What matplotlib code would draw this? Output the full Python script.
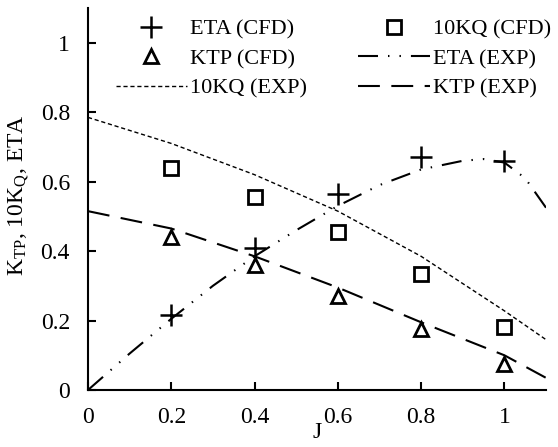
import matplotlib
matplotlib.use("Agg")
import matplotlib.pyplot as plt

plt.rcParams['font.family'] = ['Liberation Serif', 'DejaVu Serif']
plt.rcParams['mathtext.fontset'] = 'custom'
plt.rcParams['mathtext.rm'] = 'Liberation Serif'
plt.rcParams['mathtext.it'] = 'Liberation Serif'

# CFD data
J_cfd = [0.2, 0.4, 0.6, 0.8, 1.0]
eta_cfd = [0.215, 0.41, 0.565, 0.67, 0.66]
kq10_cfd = [0.64, 0.555, 0.455, 0.335, 0.18]
ktp_cfd = [0.44, 0.36, 0.27, 0.175, 0.075]

# Experimental curves
J_eta_exp = [0.0, 0.1, 0.2, 0.3, 0.4, 0.5, 0.6, 0.7, 0.8, 0.9, 0.95, 1.0, 1.05, 1.1]
eta_exp = [0.0, 0.105, 0.205, 0.3, 0.385, 0.46, 0.53, 0.59, 0.635, 0.66, 0.665, 0.655, 0.61, 0.525]
J_kq_exp = [0.0, 0.2, 0.4, 0.6, 0.8, 1.0, 1.1]
kq10_exp = [0.785, 0.71, 0.62, 0.515, 0.385, 0.228, 0.145]
J_ktp_exp = [0.0, 0.2, 0.4, 0.6, 0.8, 1.0, 1.1]
ktp_exp = [0.515, 0.465, 0.385, 0.295, 0.195, 0.1, 0.035]

xticks = [0, 0.2, 0.4, 0.6, 0.8, 1]
xticklabels = ['0', '0.2', '0.4', '0.6', '0.8', '1']
yticks = [0, 0.2, 0.4, 0.6, 0.8, 1]
yticklabels = ['0', '0.2', '0.4', '0.6', '0.8', '1']

fig = plt.figure(figsize=(5.58, 4.47), dpi=100)
ax = fig.add_axes([88/558, 1-390/447, (546-88)/558, (390-8)/447])

fs = 16
h1, = ax.plot(J_cfd, eta_cfd, linestyle='none', marker='+', markersize=16, mew=1.8, color='black', label='ETA (CFD)')
h2, = ax.plot(J_cfd, kq10_cfd, linestyle='none', marker='s', markersize=9.5, mew=2, mfc='none', color='black', label='10KQ (CFD)')
h3, = ax.plot(J_cfd, ktp_cfd, linestyle='none', marker='^', markersize=10, mew=2, mfc='none', color='black', label='KTP (CFD)')
h4, = ax.plot(J_eta_exp, eta_exp, color='black', lw=1.5, dashes=(9.6, 4.8, 0.7, 4.8, 0.7, 4.8), label='ETA (EXP)')
h5, = ax.plot(J_kq_exp, kq10_exp, color='black', lw=1.0, dashes=(3, 2), label='10KQ (EXP)')
h6, = ax.plot(J_ktp_exp, ktp_exp, color='black', lw=1.5, dashes=(10.5, 5.5), label='KTP (EXP)')

ax.set_xlim(0, 1.1)
ax.set_ylim(0, 1.1)
ax.set_xticks(xticks)
ax.set_xticklabels(xticklabels)
ax.set_yticks(yticks)
ax.set_yticklabels(yticklabels)
ax.tick_params(direction='in', length=6, width=1.5, labelsize=17)
ax.tick_params(axis='x', pad=12)
ax.tick_params(axis='y', pad=13)
for s in ['top', 'right']:
    ax.spines[s].set_visible(False)
for s in ['left', 'bottom']:
    ax.spines[s].set_linewidth(1.5)

ax.set_xlabel('J', fontsize=17)
ax.xaxis.set_label_coords(0.5, -0.084)
ax.set_ylabel(r'K$_{\mathrm{TP}}$, 10K$_{\mathrm{Q}}$, ETA', fontsize=17)
ax.yaxis.set_label_coords(-0.125, 0.51)

leg = ax.legend(handles=[h1, h3, h5, h2, h4, h6], ncol=2, frameon=False, fontsize=fs,
                loc='upper left', bbox_to_anchor=(0.061, 0.971), borderaxespad=0, borderpad=0,
                handlelength=3.2, handletextpad=0.15, columnspacing=2.3, labelspacing=0.4)

fig.savefig('out.png', dpi=100)
